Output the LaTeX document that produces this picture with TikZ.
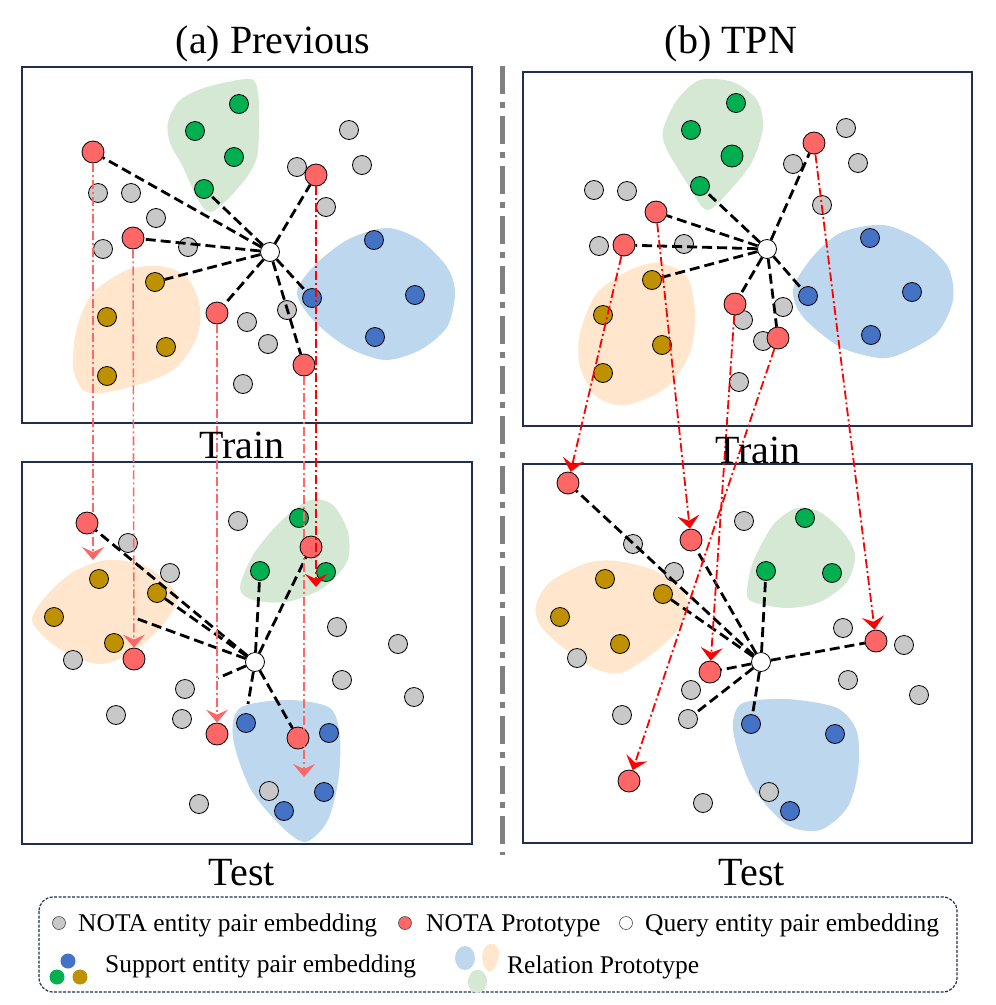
\documentclass[tikz,border=0pt]{standalone}
\usepackage{fontspec}
\setmainfont{Liberation Serif}
\usetikzlibrary{arrows.meta}
\definecolor{nred}{HTML}{FF6666}
\definecolor{ngray}{HTML}{C8C8C8}
\definecolor{ngreen}{HTML}{00B050}
\definecolor{nblue}{HTML}{4472C4}
\definecolor{ngold}{HTML}{BF9000}
\definecolor{bgreen}{HTML}{D5E8D4}
\definecolor{bblue}{HTML}{BDD7EE}
\definecolor{borange}{HTML}{FFE6CC}
\definecolor{navy}{HTML}{1F2F4F}
\definecolor{sepgray}{HTML}{808080}
\definecolor{bred}{HTML}{FF0000}
\tikzset{
 dot/.style={circle,draw=black,line width=0.8pt,inner sep=0pt,minimum size=19pt},
 gdot/.style={dot,fill=ngray},
 rdot/.style={dot,fill=nred,minimum size=22pt},
 grdot/.style={dot,fill=ngreen},
 bdot/.style={dot,fill=nblue},
 odot/.style={dot,fill=ngold},
 qdot/.style={dot,fill=white},
 link/.style={black,line width=2.8pt,dash pattern=on 10pt off 5pt},
 proj/.style={nred,line width=1.6pt,dash pattern=on 9pt off 3pt on 2pt off 3pt,-{Stealth[length=13pt,width=22pt,inset=5pt]}},
 projb/.style={proj,bred,line width=1.8pt},
 panel/.style={draw=navy,line width=2pt},
 big/.style={font=\fontsize{40}{48}\selectfont,anchor=base,inner sep=0pt},
 leg/.style={font=\fontsize{25.5}{30}\selectfont,anchor=base west,inner sep=0pt},
 ldot/.style={circle,inner sep=0pt,minimum size=13pt},
}
\begin{document}
\begin{tikzpicture}[x=1pt,y=-1pt]
\useasboundingbox (0,0) rectangle (996,1005);
% panels
\draw[panel] (22,67) rectangle (472,423);
\draw[panel] (22,462) rectangle (472,844);
\draw[panel] (523,72) rectangle (972,426);
\draw[panel] (523,464) rectangle (972,843);
% separator
\coordinate (s1) at (502,66);
\coordinate (s2) at (502,855);
\draw[sepgray,line width=5pt,dash pattern=on 28pt off 8pt on 6pt off 8pt] (s1) -- (s2);

% ---------- blobs ----------
% top-left
\fill[bgreen] plot[smooth cycle] coordinates {(168,122) (180,100) (207,87) (250,79) (258,93) (259,127) (257,157) (247,177) (227,200) (210,212) (198,200) (183,167) (170,143)};
\fill[bblue] plot[smooth cycle] coordinates {(297,293) (313,267) (347,240) (387,228) (420,240) (447,267) (455,293) (447,327) (420,350) (385,360) (347,347) (313,320)};
\fill[borange] plot[smooth cycle] coordinates {(160,266) (187,277) (200,307) (197,337) (177,367) (147,382) (103,393) (83,390) (73,367) (77,327) (93,293) (127,270)};
% top-right
\fill[bgreen] plot[smooth cycle] coordinates {(663,130) (677,100) (700,80) (733,82) (757,100) (763,127) (753,160) (733,187) (707,210) (687,183) (667,150)};
\fill[bblue] plot[smooth cycle] coordinates {(793,290) (810,260) (840,233) (883,225) (920,240) (948,267) (953,300) (937,333) (903,353) (880,358) (840,347) (803,317)};
\fill[borange] plot[smooth cycle] coordinates {(580,333) (597,293) (630,270) (660,263) (687,277) (695,313) (690,353) (667,387) (627,405) (597,397) (580,367)};
% bottom-left
\fill[borange] plot[smooth cycle] coordinates {(32,620) (47,595) (73,572) (107,560) (143,565) (170,585) (177,602) (160,628) (133,652) (103,664) (77,658) (50,642)};
\fill[bgreen] plot[smooth cycle] coordinates {(240,588) (253,555) (280,522) (310,500) (333,505) (348,532) (347,562) (323,588) (287,602) (253,600)};
\fill[bblue] plot[smooth cycle] coordinates {(233,738) (240,708) (287,700) (330,708) (340,738) (338,782) (327,822) (305,842) (280,825) (250,788)};
% bottom-right
\fill[borange] plot[smooth cycle] coordinates {(536,605) (550,582) (587,563) (617,561) (653,570) (680,588) (688,608) (673,635) (647,658) (620,673) (593,668) (560,645) (540,625)};
\fill[bgreen] plot[smooth cycle] coordinates {(747,592) (753,562) (773,525) (797,508) (820,512) (843,532) (855,555) (847,582) (820,602) (787,608) (753,602)};
\fill[bblue] plot[smooth cycle] coordinates {(733,722) (743,703) (787,699) (837,708) (857,732) (858,772) (847,808) (820,830) (787,825) (753,788) (737,748)};

% ---------- top-left nodes ----------
\foreach \p [count=\i] in {(98,193),(131,193),(156,218),(103,249),(188,247),(297,167),(349,130),(362,165),(326,207),(287,310),(247,322),(268,344),(243,384)}
  \node[gdot] (tlgr\i) at \p {};
\node[grdot] (tlg1) at (239,104) {};
\node[grdot] (tlg2) at (195,131) {};
\node[grdot] (tlg3) at (234,157) {};
\node[grdot] (tlg4) at (204,189) {};
\node[bdot] (tlb1) at (374,240) {};
\node[bdot] (tlb2) at (312,298) {};
\node[bdot] (tlb3) at (415,295) {};
\node[bdot] (tlb4) at (375,337) {};
\node[odot] (tlo1) at (155,282) {};
\node[odot] (tlo2) at (107,317) {};
\node[odot] (tlo3) at (166,347) {};
\node[odot] (tlo4) at (107,376) {};
\node[rdot] (a1) at (93,152) {};
\node[rdot] (a2) at (133,238) {};
\node[rdot] (a3) at (217,313) {};
\node[rdot] (a4) at (304,365) {};
\node[rdot] (a5) at (316,175) {};
\node[qdot] (qa) at (270,252) {};

% ---------- top-right nodes ----------
\foreach \p [count=\i] in {(594,190),(627,191),(599,246),(684,244),(846,128),(858,163),(793,164),(822,205),(783,307),(743,320),(763,341),(739,382)}
  \node[gdot] (trgr\i) at \p {};
\node[grdot] (trg1) at (736,103) {};
\node[grdot] (trg2) at (691,130) {};
\node[grdot,minimum size=22pt] (trg3) at (732,156) {};
\node[grdot] (trg4) at (700,186) {};
\node[bdot] (trb1) at (870,238) {};
\node[bdot] (trb2) at (808,296) {};
\node[bdot] (trb3) at (912,292) {};
\node[bdot] (trb4) at (871,335) {};
\node[odot] (tro1) at (652,280) {};
\node[odot] (tro2) at (603,315) {};
\node[odot] (tro3) at (662,345) {};
\node[odot] (tro4) at (603,373) {};
\node[rdot] (b1) at (814,143) {};
\node[rdot] (b2) at (656,212) {};
\node[rdot] (b3) at (624,245) {};
\node[rdot] (b4) at (735,304) {};
\node[rdot] (b5) at (778,338) {};
\node[qdot] (qb) at (767,249) {};

% ---------- bottom-left nodes ----------
\foreach \p [count=\i] in {(128,543),(170,573),(238,521),(73,660),(185,689),(116,715),(182,719),(337,627),(398,644),(342,680),(414,697),(199,804),(269,791)}
  \node[gdot] (blgr\i) at \p {};
\node[grdot] (blg1) at (299,518) {};
\node[grdot] (blg2) at (260,571) {};
\node[grdot] (blg3) at (326,572) {};
\node[bdot] (blb1) at (246,723) {};
\node[bdot] (blb2) at (329,733) {};
\node[bdot] (blb3) at (324,792) {};
\node[bdot] (blb4) at (284,811) {};
\node[odot] (blo1) at (99,579) {};
\node[odot] (blo2) at (54,617) {};
\node[odot] (blo3) at (157,593) {};
\node[odot] (blo4) at (114,643) {};
\node[rdot] (c1) at (87,523) {};
\node[rdot] (c2) at (134,659) {};
\node[rdot] (c3) at (311,547) {};
\node[rdot] (c4) at (217,734) {};
\node[rdot] (c5) at (298,738) {};
\node[qdot] (qc) at (255,662) {};

% ---------- bottom-right nodes ----------
\foreach \p [count=\i] in {(633,544),(674,572),(744,521),(577,658),(691,690),(622,715),(688,719),(843,628),(904,645),(848,680),(919,695),(703,803),(769,792)}
  \node[gdot] (brgr\i) at \p {};
\node[grdot] (brg1) at (805,518) {};
\node[grdot] (brg2) at (766,571) {};
\node[grdot] (brg3) at (832,573) {};
\node[bdot] (brb1) at (751,724) {};
\node[bdot] (brb2) at (835,734) {};
\node[bdot] (brb3) at (790,811) {};
\node[odot] (bro1) at (605,579) {};
\node[odot] (bro2) at (560,617) {};
\node[odot] (bro3) at (663,594) {};
\node[odot] (bro4) at (620,644) {};
\node[rdot] (d1) at (568,483) {};
\node[rdot] (d2) at (691,540) {};
\node[rdot] (d3) at (710,672) {};
\node[rdot] (d4) at (876,641) {};
\node[rdot] (d5) at (629,781) {};
\node[qdot] (qd) at (761,662) {};

% ---------- dashed links ----------
\foreach \t in {a1,tlg4,a2,tlo1,a3,a4,tlb2,a5} \draw[link] (qa) -- (\t);
\foreach \t in {trg4,b2,b3,tro1,b4,b5,trb2,b1} \draw[link] (qb) -- (\t);
\coordinate (cx1) at (135,618);
\coordinate (cx2) at (218,678);
\coordinate (cx3) at (248,704);
\foreach \t in {c1,blo3,cx1,blg2,c3,cx2,cx3,c5} \draw[link] (qc) -- (\t);
\foreach \t in {d1,bro3,d2,brg2,d4,d3,brgr7,brb1} \draw[link] (qd) -- (\t);

% ---------- projections ----------
\coordinate (e1) at (93,560);
\coordinate (e4) at (304,777);
\coordinate (e5) at (316,587);
\draw[proj] (a1) -- (e1);
\draw[proj] (a2) -- (c2);
\draw[proj] (a3) -- (c4);
\draw[proj] (a4) -- (e4);
\draw[projb,line width=2.4pt] (a5) -- (e5);
\draw[projb] (b3) -- (d1);
\draw[projb] (b2) -- (d2);
\draw[projb] (b4) -- (d3);
\draw[projb] (b5) -- (d5);
\draw[projb] (b1) -- (d4);

% ---------- labels ----------
\node[big] (ta) at (273,53) {(a) Previous};
\node[big] (tb) at (731,53) {(b) TPN};
\node[big] (tr1) at (242,458) {Train};
\node[big] (tr2) at (758,463) {Train};
\node[big] (te1) at (242,885) {Test};
\node[big] (te2) at (752,885) {Test};

% ---------- legend ----------
\draw[navy,line width=1.2pt,dash pattern=on 3pt off 1.5pt,rounded corners=14pt] (39,897) rectangle (957,992);
\node[ldot,draw=black!70,line width=0.6pt,fill=ngray] (lg) at (59,923) {};
\node[leg] (lgt) at (78,931) {NOTA entity pair embedding};
\node[ldot,draw=black!70,line width=0.6pt,fill=nred] (lr) at (405,923) {};
\node[leg] (lrt) at (426,931) {NOTA Prototype};
\node[ldot,draw=black!70,line width=0.6pt,fill=white] (lq) at (626,923) {};
\node[leg] (lqt) at (645,931) {Query entity pair embedding};
\node[ldot,fill=nblue,minimum size=15pt] (lsb) at (68,961) {};
\node[ldot,fill=ngreen,minimum size=15pt] (lsg) at (57,977) {};
\node[ldot,fill=ngold,minimum size=15pt] (lso) at (80,977) {};
\node[leg] (lst) at (105,972) {Support entity pair embedding};
\fill[bblue] (465,958) ellipse [x radius=10, y radius=12];
\fill[borange] plot[smooth cycle] coordinates {(482,956) (486,946) (494,944) (499,952) (496,965) (490,972) (484,966)};
\fill[bgreen] plot[smooth cycle] coordinates {(468,980) (473,971) (482,971) (487,980) (484,990) (477,993) (470,989)};
\node[leg] (lrp) at (507,973) {Relation Prototype};
\end{tikzpicture}
\end{document}
